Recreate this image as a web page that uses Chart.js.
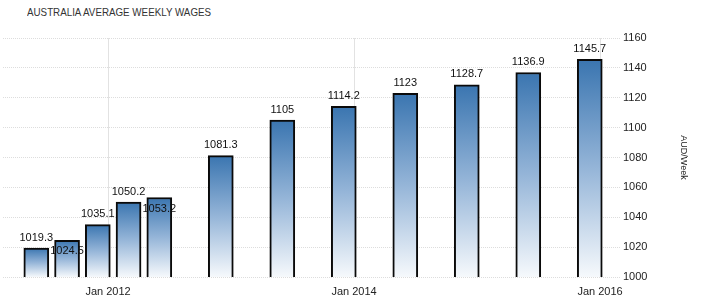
<!DOCTYPE html>
<html>
<head>
<meta charset="utf-8">
<script src="https://cdn.jsdelivr.net/npm/chart.js@4/dist/chart.umd.min.js"></script>
<style>
  html, body { margin: 0; padding: 0; background: #fff; }
  #wrap { position: relative; width: 702px; height: 305px; }
  #title { position: absolute; left: 27px; top: 6px; font: 11px "Liberation Sans", Arial, sans-serif; color: #333;
           line-height: 13px; white-space: nowrap; transform: scaleX(0.89); transform-origin: 0 0; }
  canvas { position: absolute; left: 0; top: 0; }
</style>
</head>
<body>
<div id="wrap">
  <div id="title">AUSTRALIA AVERAGE WEEKLY WAGES</div>
  <canvas id="c" width="702" height="305"></canvas>
</div>
<script>
// Data
const periods = ['2011-05','2011-08','2011-11','2012-02','2012-05','2012-11','2013-05','2013-11','2014-05','2014-11','2015-05','2015-11'];
const wages = [1019.3, 1024.5, 1035.1, 1050.2, 1053.2, 1081.3, 1105, 1114.2, 1123, 1128.7, 1136.9, 1145.7];
const xTickPeriods = ['2012-01','2014-01','2016-01'];
const xTickLabels = ['Jan 2012','Jan 2014','Jan 2016'];
const yUnit = 'AUD/Week';

// month offset relative to start of Jan 2012
function endOfMonth(p) { const [y, m] = p.split('-').map(Number); return (y - 2012) * 12 + m; }
function startOfMonth(p) { const [y, m] = p.split('-').map(Number); return (y - 2012) * 12 + (m - 1); }

const points = periods.map((p, i) => ({ x: endOfMonth(p), y: wages[i] }));
const tickVals = xTickPeriods.map(startOfMonth);

const FONT = '"Liberation Sans", Arial, sans-serif';

const labelPlugin = {
  id: 'valueLabels',
  afterDatasetsDraw(chart) {
    const ctx = chart.ctx;
    const meta = chart.getDatasetMeta(0);
    ctx.save();
    ctx.font = '11px ' + FONT;
    ctx.fillStyle = '#111';
    ctx.textAlign = 'center';
    ctx.textBaseline = 'middle';
    const placed = [];
    meta.data.forEach((bar, i) => {
      const txt = String(wages[i]);
      const w = ctx.measureText(txt).width;
      let y = bar.y - 10.5;
      const box = (yy) => ({ l: bar.x - w / 2 - 2, r: bar.x + w / 2 + 2, t: yy - 7, b: yy + 7 });
      let b = box(y);
      const hit = placed.some(p => b.l < p.r && b.r > p.l && b.t < p.b && b.b > p.t);
      if (hit) { y = bar.y + 11; b = box(y); }
      placed.push(b);
      ctx.fillText(txt, bar.x, y);
    });
    ctx.restore();
  }
};

new Chart(document.getElementById('c'), {
  type: 'bar',
  data: {
    datasets: [{
      data: points,
      barThickness: 25,
      borderWidth: 2,
      borderColor: '#0a0a0a',
      borderSkipped: false,
      backgroundColor: (c) => {
        const ch = c.chart;
        if (!ch.chartArea || !c.parsed) return '#4a7fb5';
        const ys = ch.scales.y;
        const top = ys.getPixelForValue(c.parsed.y);
        const bot = ys.getPixelForValue(ys.min);
        if (!isFinite(top) || !isFinite(bot) || top === bot) return '#4a7fb5';
        const g = ch.ctx.createLinearGradient(0, top, 0, bot);
        g.addColorStop(0, '#3a75b0');
        g.addColorStop(0.5, '#95b5d8');
        g.addColorStop(1, '#f6f9fc');
        return g;
      }
    }]
  },
  options: {
    responsive: false,
    animation: false,
    layout: { padding: { left: 3, right: 13, top: 38, bottom: 0 } },
    plugins: { legend: { display: false }, tooltip: { enabled: false }, title: { display: false } },
    scales: {
      x: {
        type: 'linear',
        offset: false,
        min: -10.25,
        max: 49.95,
        afterBuildTicks: (s) => { s.ticks = tickVals.map(v => ({ value: v })); },
        afterFit: (s) => { s.height = 28; },
        ticks: {
          autoSkip: false,
          maxRotation: 0,
          padding: 8,
          color: '#222',
          font: { family: FONT, size: 11 },
          callback: (v) => { const i = tickVals.indexOf(v); return i >= 0 ? xTickLabels[i] : ''; }
        },
        grid: { color: '#e2e2e2', drawTicks: false, offset: false, lineWidth: 1 },
        border: { display: false }
      },
      y: {
        position: 'right',
        min: 1000,
        max: 1160,
        afterFit: (s) => { s.width = 69; },
        ticks: {
          stepSize: 20,
          padding: 3,
          color: '#222',
          font: { family: FONT, size: 11 },
          callback: (v) => String(v)
        },
        grid: { color: '#dddddd', drawTicks: false },
        border: { display: false, dash: [1, 1] },
        title: {
          display: true,
          text: yUnit,
          color: '#222',
          font: { family: FONT, size: 9 },
          padding: 0
        }
      }
    }
  },
  plugins: [labelPlugin]
});
</script>
</body>
</html>
